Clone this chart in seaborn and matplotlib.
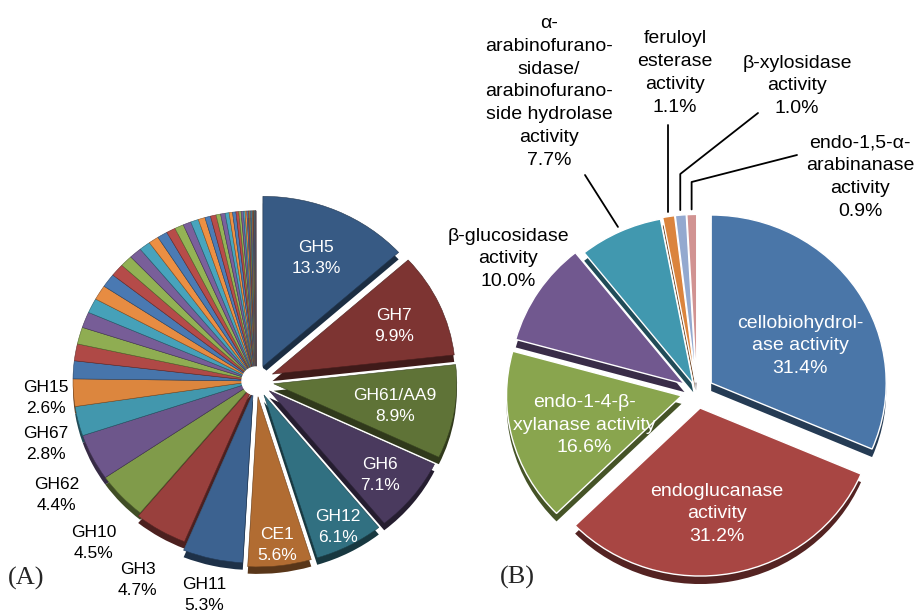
import numpy as np
import seaborn as sns
import matplotlib.pyplot as plt
from matplotlib.colors import to_rgb
from matplotlib.patches import Ellipse

# === 1. Data ===
# (A) CAZy families, clockwise from 12 o'clock
fam_names = ["GH5", "GH7", "GH61/AA9", "GH6", "GH12", "CE1",
             "GH11", "GH3", "GH10", "GH62", "GH67", "GH15"]
fam_pct = [13.3, 9.9, 8.9, 7.1, 6.1, 5.6, 5.3, 4.7, 4.5, 4.4, 2.8, 2.6]
# small unnamed families (upper left wedges)
fam_minor = [1.7, 1.6, 1.6, 1.5, 1.4, 1.4, 1.3, 1.2, 1.1, 1.1,
             1.0, 0.9, 0.9, 0.8, 0.8, 0.7, 0.7, 0.6,
             0.5, 0.5, 0.4, 0.4, 0.35, 0.3, 0.3, 0.25, 0.2, 0.2, 0.15, 0.15,
             0.12, 0.1, 0.1, 0.08, 0.07, 0.06, 0.05, 0.04, 0.04, 0.03, 0.03,
             0.02, 0.02, 0.02, 0.01, 0.01]

# (B) GO activities
act_names = ["cellobiohydrol-\nase activity",
             "endoglucanase\nactivity",
             "endo-1-4-β-\nxylanase activity",
             "β-glucosidase\nactivity",
             "α-\narabinofurano-\nsidase/\narabinofurano-\nside hydrolase\nactivity",
             "feruloyl\nesterase\nactivity",
             "β-xylosidase\nactivity",
             "endo-1,5-α-\narabinanase\nactivity"]
act_pct = [31.4, 31.2, 16.6, 10.0, 7.7, 1.1, 1.0, 0.9]

# === 2. Style / layout ===
W, H = 919, 615
excel = ["#4F81BD", "#C0504D", "#9BBB59", "#8064A2", "#4BACC6", "#F79646"]
colors_b = ["#4A76A8", "#A84643", "#89A54E", "#71588F",
            "#4198AF", "#DB843D", "#93A9CF", "#D19392"]

sqA, sqB = 0.93, 0.96             # vertical squash (3D tilt)
cA, RA, depthA = (256, 381), 183, 7
cB, RB, depthB = (697, 392), 175, 8
explA = [17, 18, 18, 17, 17, 17, 13, 4]
explB = [17, 17, 16, 15, 9, 10, 10, 10]
labdistA = [0.72, 0.73, 0.67, 0.77, 0.86, 0.86, 1.2, 1.3, 1.29, 1.27, 1.2, 1.15]
labnudgeA = [0, 0, 0, 0, 0, 0, 0, 1.5, 3.8, 4.4, 3.5, 0]   # degrees

# label positions in B (pixels) and leader lines
posB = [(800, 346), (717, 514), (584, 425), (508, 259),
        (549, 92), (675, 73), (797, 86), (860, 177)]
leaders = {4: [(585, 175)], 5: [(None, 125)], 6: [(758, 113), (None, 174)],
           7: [(797, 155), (None, 182)]}

sns.set_theme(style="white")
plt.rcParams["font.family"] = ["Liberation Sans", "DejaVu Sans"]

fig = plt.figure(figsize=(W / 100, H / 100), dpi=100)


def to_data(px, py, sq):
    return px, (H - py) / sq


def draw_pie(ax, vals, cols, center, R, expl, sq, depth, edge, lw):
    cx, cy = to_data(*center, sq)
    dark = [tuple(np.array(to_rgb(c)) * 0.5) for c in cols]
    ax.pie(vals, colors=dark, startangle=90, counterclock=False, radius=R,
           center=(cx, cy - depth / sq), explode=expl, labeldistance=None,
           wedgeprops=dict(linewidth=0))
    wedges, _ = ax.pie(vals, colors=cols, startangle=90, counterclock=False,
                       radius=R, center=(cx, cy), explode=expl,
                       labeldistance=None,
                       wedgeprops=dict(linewidth=lw, edgecolor=edge))
    return wedges


# === 3. Pie (A) ===
axA = fig.add_axes([0, 0, 1, 1])
valsA = np.array(fam_pct + fam_minor)
frac = valsA / valsA.sum()
mid_clock = (np.cumsum(frac) - frac / 2) * 360
shade = np.interp(mid_clock, [0, 60, 130, 180, 240, 290, 360],
                  [0.72, 0.66, 0.58, 0.74, 0.85, 0.93, 0.97])
colsA = [tuple(np.clip(np.array(to_rgb(excel[i % 6])) * s, 0, 1))
         for i, s in enumerate(shade)]
explodeA = explA + [0] * (len(valsA) - len(explA))
wA = draw_pie(axA, valsA, colsA, cA, RA, explodeA, sqA, depthA, "none", 0)
for w, c in zip(wA, colsA):
    w.set_edgecolor(tuple(np.array(c) * 0.6))
    w.set_linewidth(0.4)

hx, hy = to_data(*cA, sqA)
axA.add_patch(Ellipse((hx, hy), 28, 28 / sqA, color="white", zorder=5))

for i, (name, p) in enumerate(zip(fam_names, fam_pct)):
    w = wA[i]
    th = np.deg2rad((w.theta1 + w.theta2) / 2 + labnudgeA[i])
    x = w.center[0] + labdistA[i] * w.r * np.cos(th)
    y = w.center[1] + labdistA[i] * w.r * np.sin(th) - 3 / sqA
    inside = labdistA[i] < 1
    axA.text(x, y, f"{name}\n{p:.1f}%", ha="center", va="center",
             fontsize=12.5, linespacing=1.5,
             color="white" if inside else "black", zorder=6)

axA.set_aspect("auto")
axA.set_xlim(0, W)
axA.set_ylim(0, H / sqA)
axA.set_axis_off()
axA.text(*to_data(8, 578, sqA), "(A)", family=["Liberation Serif", "DejaVu Serif"],
         fontsize=19, ha="left", va="center")

# === 4. Pie (B) ===
axB = fig.add_axes([0, 0, 1, 1])
axB.patch.set_alpha(0)
wB = draw_pie(axB, act_pct, colors_b, cB, RB, explB, sqB, depthB, "white", 1.0)

for i, (name, p) in enumerate(zip(act_names, act_pct)):
    px, py = posB[i]
    axB.text(*to_data(px, py, sqB), f"{name}\n{p:.1f}%", ha="center",
             va="center", fontsize=14, linespacing=1.45,
             color="white" if i < 3 else "black", zorder=6)
    if i in leaders:
        w = wB[i]
        th = np.deg2rad((w.theta1 + w.theta2) / 2)
        wx = w.center[0] + 1.03 * w.r * np.cos(th)
        wy = w.center[1] + 1.03 * w.r * np.sin(th)
        pts = []
        for lx, ly in leaders[i]:
            pts.append((wx if lx is None else lx, to_data(0, ly, sqB)[1]))
        pts.append((wx, wy))
        xs, ys = zip(*pts)
        axB.plot(xs, ys, color="black", lw=1.3, zorder=6)

axB.set_aspect("auto")
axB.set_xlim(0, W)
axB.set_ylim(0, H / sqB)
axB.set_axis_off()
axB.text(*to_data(500, 577, sqB), "(B)", family=["Liberation Serif", "DejaVu Serif"],
         fontsize=19, ha="left", va="center")

fig.savefig("out.png", dpi=100)
